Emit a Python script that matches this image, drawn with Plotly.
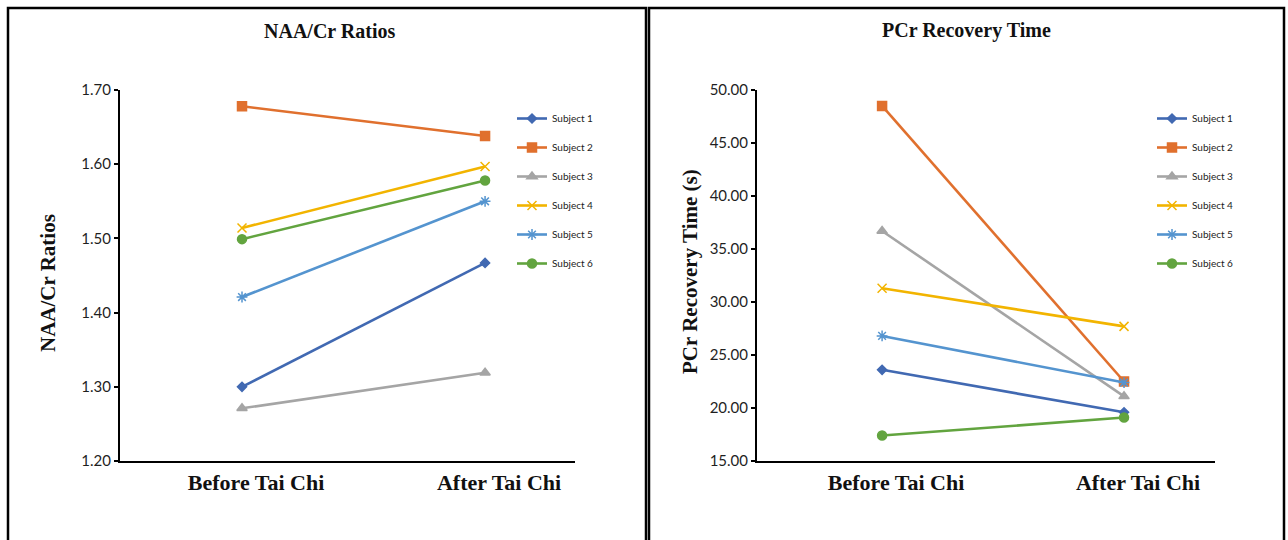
import plotly.graph_objects as go

W, H = 1288, 540

categories = ["Before Tai Chi", "After Tai Chi"]
subjects = ["Subject 1", "Subject 2", "Subject 3", "Subject 4", "Subject 5", "Subject 6"]

naa_before = [1.30, 1.678, 1.271, 1.514, 1.421, 1.499]
naa_after = [1.467, 1.638, 1.319, 1.597, 1.550, 1.578]

pcr_before = [23.6, 48.5, 36.7, 31.3, 26.8, 17.4]
pcr_after = [19.6, 22.5, 21.1, 27.7, 22.4, 19.1]

naa_ticks = [1.20, 1.30, 1.40, 1.50, 1.60, 1.70]
pcr_ticks = [15.0, 20.0, 25.0, 30.0, 35.0, 40.0, 45.0, 50.0]

colors = ["#4169B2", "#E0702E", "#A5A5A5", "#F2B400", "#5494CF", "#62A43F"]
symbols = ["diamond", "square", "triangle-up", "x-thin-open", "asterisk-open", "circle"]
msizes = [7, 9, 9, 9, 9, 9]

fig = go.Figure()

xpos = [0, 1]
for i, s in enumerate(subjects):
    fig.add_trace(go.Scatter(
        x=xpos, y=[naa_before[i], naa_after[i]], name=s, mode="lines+markers",
        line=dict(color=colors[i], width=2.6),
        marker=dict(symbol=symbols[i], size=msizes[i], color=colors[i],
                    line=dict(color=colors[i], width=1.5)),
        xaxis="x", yaxis="y", legend="legend", legendgroup="a%d" % i,
    ))
for i, s in enumerate(subjects):
    fig.add_trace(go.Scatter(
        x=xpos, y=[pcr_before[i], pcr_after[i]], name=s, mode="lines+markers",
        line=dict(color=colors[i], width=2.6),
        marker=dict(symbol=symbols[i], size=msizes[i], color=colors[i],
                    line=dict(color=colors[i], width=1.5)),
        xaxis="x2", yaxis="y2", legend="legend2", legendgroup="b%d" % i,
    ))

def px_x(p):
    return p / W

def px_y(p):
    return 1 - p / H

ybot, ytop = px_y(461), px_y(90)

tickfont = dict(family="Lato, Liberation Sans, sans-serif", size=15, color="#1f1f1f")
catfont = dict(family="Liberation Serif, Times New Roman, serif", size=22, color="#111111")

cat_text = ["<b>%s</b>" % c for c in categories]

common_x = dict(showgrid=False, zeroline=False, showline=True, linecolor="black", linewidth=2,
                tickmode="array", tickvals=xpos, ticktext=cat_text, ticks="",
                tickfont=catfont, ticklabelstandoff=1, ticklabelshift=14, automargin=False)
common_y = dict(showgrid=False, zeroline=False, showline=True, linecolor="black", linewidth=2,
                ticks="outside", ticklen=4, tickwidth=2, tickcolor="black",
                tickfont=tickfont, tickformat=".2f", tickmode="array", automargin=False)

legfont = dict(family="Lato, Liberation Sans, sans-serif", size=10, color="#222")

fig.update_layout(
    width=W, height=H, margin=dict(l=0, r=0, t=0, b=0, autoexpand=False),
    paper_bgcolor="white", plot_bgcolor="white", showlegend=True,
    xaxis=dict(domain=[px_x(120), px_x(575)], range=[-0.502, 1.37], anchor="y", **common_x),
    yaxis=dict(domain=[ybot, ytop], range=[1.2, 1.7], tickvals=naa_ticks, anchor="x", **common_y),
    xaxis2=dict(domain=[px_x(757), px_x(1215)], range=[-0.517, 1.376], anchor="y2", **common_x),
    yaxis2=dict(domain=[ybot, ytop], range=[15, 50], tickvals=pcr_ticks, anchor="x2", **common_y),
    legend=dict(x=px_x(512), y=px_y(104), xanchor="left", yanchor="top", font=legfont,
                traceorder="grouped", tracegroupgap=10, itemwidth=30, bgcolor="rgba(0,0,0,0)"),
    legend2=dict(x=px_x(1152), y=px_y(104), xanchor="left", yanchor="top", font=legfont,
                 traceorder="grouped", tracegroupgap=10, itemwidth=30, bgcolor="rgba(0,0,0,0)"),
)

titlefont = dict(family="Liberation Serif, Times New Roman, serif", size=20, color="#111111")
axtitlefont = dict(family="Liberation Serif, Times New Roman, serif", size=21, color="#111111")

ann = dict(xref="paper", yref="paper", showarrow=False, xanchor="center", yanchor="middle")
fig.add_annotation(text="<b>NAA/Cr Ratios</b>", x=px_x(330), y=px_y(31), font=titlefont, **ann)
fig.add_annotation(text="<b>PCr Recovery Time</b>", x=px_x(966), y=px_y(31), font=titlefont, **ann)
fig.add_annotation(text="<b>NAA/Cr Ratios</b>", x=px_x(48), y=px_y(283), textangle=-90,
                   font=axtitlefont, **ann)
fig.add_annotation(text="<b>PCr Recovery Time (s)</b>", x=px_x(690), y=px_y(272), textangle=-90,
                   font=axtitlefont, **ann)

# panel borders
fig.add_shape(type="rect", xref="paper", yref="paper", x0=px_x(8), x1=px_x(646), y0=px_y(560), y1=px_y(8),
              line=dict(color="black", width=2.5))
fig.add_shape(type="rect", xref="paper", yref="paper", x0=px_x(649), x1=px_x(1284), y0=px_y(560), y1=px_y(8),
              line=dict(color="black", width=2.5))

fig.write_html("out.html", config={"displayModeBar": False},
               post_script="document.body.style.margin='0px';document.body.style.overflow='hidden';")
